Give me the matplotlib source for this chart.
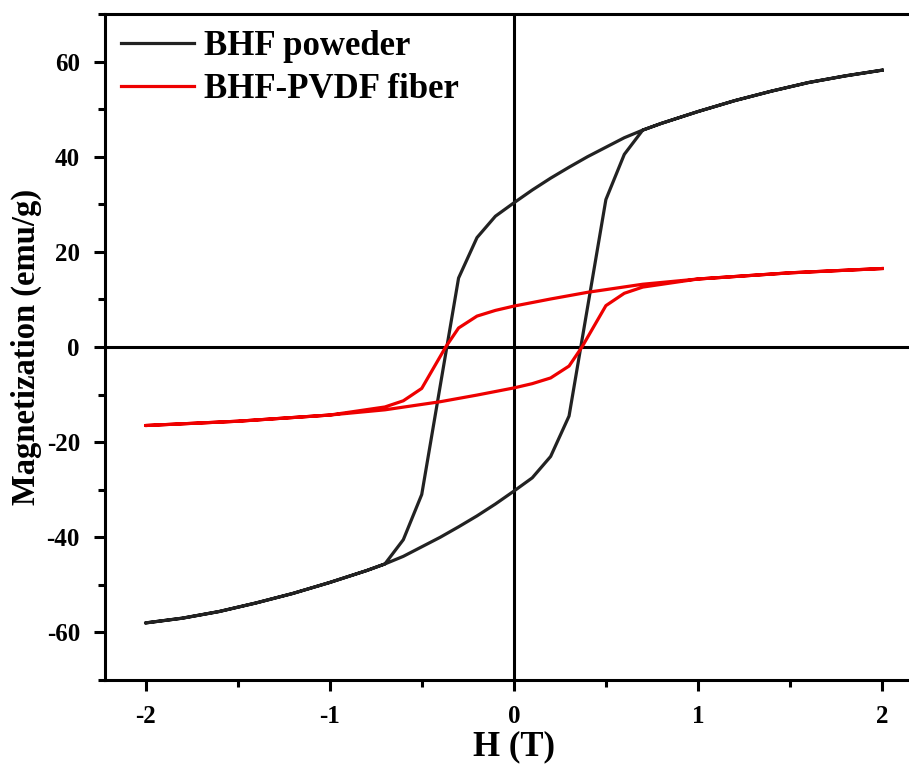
import matplotlib.pyplot as plt
from matplotlib.ticker import MultipleLocator

plt.rcParams['font.family'] = ['Liberation Serif', 'DejaVu Serif']
plt.rcParams['font.weight'] = 'bold'
plt.rcParams['axes.unicode_minus'] = False

# BHF powder loop (field sweep 2 -> -2 -> 2)
bhf_h = [2.0, 1.8, 1.6, 1.4, 1.2, 1.0, 0.8, 0.7, 0.6, 0.5, 0.4, 0.3, 0.2, 0.1, 0.0,
         -0.1, -0.2, -0.3, -0.5, -0.6, -0.7, -0.8, -1.0, -1.2, -1.4, -1.6, -1.8, -2.0,
         -1.8, -1.6, -1.4, -1.2, -1.0, -0.8, -0.7, -0.6, -0.5, -0.4, -0.3, -0.2, -0.1, 0.0,
         0.1, 0.2, 0.3, 0.5, 0.6, 0.7, 0.8, 1.0, 1.2, 1.4, 1.6, 1.8, 2.0]
bhf_m = [58.2, 57.0, 55.6, 53.8, 51.8, 49.5, 47.0, 45.6, 44.0, 42.0, 40.0, 37.8, 35.5, 33.0, 30.3,
         27.5, 23.0, 14.5, -31.0, -40.5, -45.6, -47.0, -49.5, -51.8, -53.8, -55.6, -57.0, -58.0,
         -57.0, -55.6, -53.8, -51.8, -49.5, -47.0, -45.6, -44.0, -42.0, -40.0, -37.8, -35.5, -33.0, -30.3,
         -27.5, -23.0, -14.5, 31.0, 40.5, 45.6, 47.0, 49.5, 51.8, 53.8, 55.6, 57.0, 58.2]

# BHF-PVDF fiber loop
fib_h = [2.0, 1.5, 1.0, 0.7, 0.4, 0.2, 0.0, -0.1, -0.2, -0.3, -0.37, -0.5, -0.6, -0.7,
         -1.0, -1.5, -2.0, -1.5, -1.0, -0.7, -0.4, -0.2, 0.0, 0.1, 0.2, 0.3, 0.37, 0.5,
         0.6, 0.7, 1.0, 1.5, 2.0]
fib_m = [16.5, 15.6, 14.3, 13.2, 11.5, 10.1, 8.6, 7.7, 6.5, 4.0, 0.0, -8.7, -11.3, -12.6,
         -14.3, -15.6, -16.5, -15.6, -14.3, -13.2, -11.5, -10.1, -8.6, -7.7, -6.5, -4.0, 0.0, 8.7,
         11.3, 12.6, 14.3, 15.6, 16.5]

fig = plt.figure(figsize=(9.09, 7.67), dpi=100)
ax = fig.add_axes([0.1155, 0.1134, 0.8995, 0.8683])

ax.axhline(0, color='black', linewidth=2.2, zorder=1)
ax.axvline(0, color='black', linewidth=2.2, zorder=1)

ax.plot(bhf_h, bhf_m, color='#222222', linewidth=2.3, label='BHF poweder', zorder=3)
ax.plot(fib_h, fib_m, color='#ee0000', linewidth=2.3, label='BHF-PVDF fiber', zorder=4)

ax.set_xlim(-2.22, 2.22)
ax.set_ylim(-70, 70)
ax.xaxis.set_major_locator(MultipleLocator(1))
ax.xaxis.set_minor_locator(MultipleLocator(0.5))
ax.yaxis.set_major_locator(MultipleLocator(20))
ax.yaxis.set_minor_locator(MultipleLocator(10))
ax.set_yticks([-60, -40, -20, 0, 20, 40, 60])

for s in ax.spines.values():
    s.set_linewidth(2.2)
ax.spines['right'].set_visible(False)

ax.tick_params(which='major', direction='out', length=8, width=2.2, labelsize=18, pad=10)
ax.tick_params(which='minor', direction='out', length=5, width=2.2)
ax.tick_params(top=False, right=False, which='both')

ax.set_xlabel('H (T)', fontsize=25, fontweight='bold', labelpad=2)
ax.set_ylabel('Magnetization (emu/g)', fontsize=23.5, fontweight='bold', labelpad=3)

ax.legend(loc='upper left', frameon=False, handlelength=2.1,
          handletextpad=0.3, borderaxespad=0.05, labelspacing=0.3,
          prop={'weight': 'bold', 'size': 25})

plt.savefig('out.png', dpi=100)
